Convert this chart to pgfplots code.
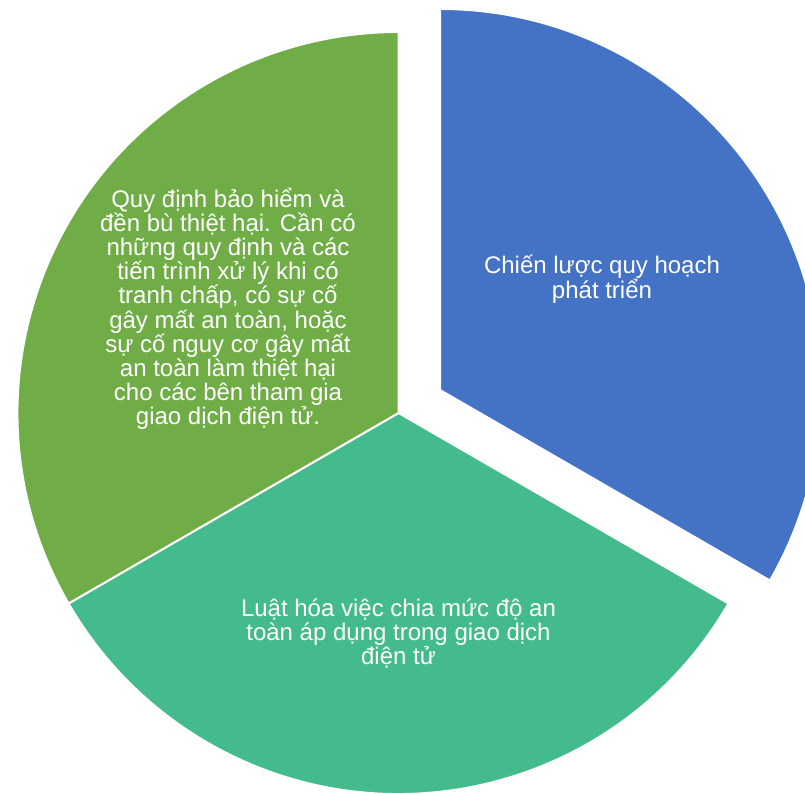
\documentclass[border=0pt]{standalone}
\usepackage{pgfplots}
\pgfplotsset{compat=1.18}
\usepackage{fontspec}
\setmainfont{Liberation Sans}

\definecolor{sliceblue}{RGB}{68,114,196}
\definecolor{sliceteal}{RGB}{68,187,140}
\definecolor{slicegreen}{RGB}{112,173,71}

\begin{document}
\begin{tikzpicture}
\begin{axis}[
    x=1pt, y=1pt,
    xmin=0, xmax=805, ymin=0, ymax=794,
    hide axis,
    clip=true,
    clip bounding box=upper bound,
]
% three equal shares (1,1,1), clockwise from the top; first one pulled out
\def\R{381}
\fill[sliceblue, draw=white, line width=2pt]
    (axis cs:440,404) -- ++(90:\R pt) arc[start angle=90, end angle=-30, radius=\R pt] -- cycle;
\fill[sliceteal, draw=white, line width=2pt]
    (axis cs:398.5,381) -- ++(-30:\R pt) arc[start angle=-30, end angle=-150, radius=\R pt] -- cycle;
\fill[slicegreen, draw=white, line width=2pt]
    (axis cs:398.5,381) -- ++(210:\R pt) arc[start angle=210, end angle=90, radius=\R pt] -- cycle;

% anchor=base sits on the baseline of the last line
\tikzset{lbl/.style={text=white, align=center, inner sep=0pt, anchor=base,
    font=\fontsize{24}{24.2}\selectfont}}
\node[lbl] at (axis cs:602,495) {Chiến lược quy hoạch\\phát triển};
\node[lbl] at (axis cs:398.5,129) {Luật hóa việc chia mức độ an\\toàn áp dụng trong giao dịch\\điện tử};
\node[lbl] at (axis cs:228,369) {Quy định bảo hiểm và\\đền bù thiệt hại. Cần có\\những quy định và các\\tiến trình xử lý khi có\\tranh chấp, có sự cố\\gây mất an toàn, hoặc\\sự cố nguy cơ gây mất\\an toàn làm thiệt hại\\cho các bên tham gia\\giao dịch điện tử.};
\end{axis}
% page = the axis box exactly
\pgfresetboundingbox
\useasboundingbox (current axis.south west) rectangle (current axis.north east);
\end{tikzpicture}
\end{document}
